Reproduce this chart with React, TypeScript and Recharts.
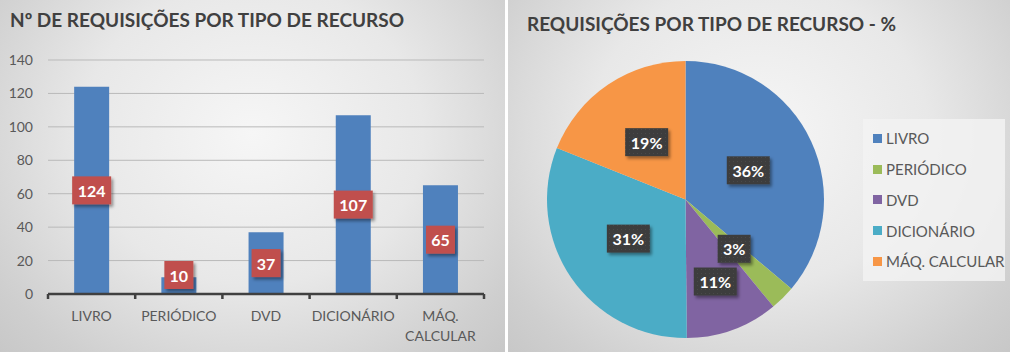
import React from "react";
import {
  BarChart,
  Bar,
  XAxis,
  YAxis,
  CartesianGrid,
  LabelList,
  PieChart,
  Pie,
  Cell,
  Legend,
  Text,
} from "recharts";

const categories = ["LIVRO", "PERIÓDICO", "DVD", "DICIONÁRIO", "MÁQ. CALCULAR"];
const requisitions = [124, 10, 37, 107, 65];
const yTicks = [0, 20, 40, 60, 80, 100, 120, 140];
const sliceColors = ["#4F81BD", "#9BBB59", "#8064A2", "#4BACC6", "#F79646"];

const barTitle = "Nº DE REQUISIÇÕES POR TIPO DE RECURSO";
const pieTitle = "REQUISIÇÕES POR TIPO DE RECURSO - %";

const FONT = "Lato, 'Open Sans', sans-serif";

const data = categories.map((name, i) => ({ name, value: requisitions[i] }));

const panelBg =
  "radial-gradient(ellipse 75% 95% at 50% 38%, #f6f6f6 0%, #e8e8e8 45%, #cfcfcf 80%, #c4c4c4 100%)";

// category tick with boundary marks like Excel
function CategoryTick(props: any) {
  const { x, y, payload, index, visibleTicksCount, width } = props;
  const half = payload?.offset || width / visibleTicksCount / 2;
  const axisY = y - 17;
  return (
    <g>
      <line x1={x - half} x2={x - half} y1={axisY} y2={axisY + 5} stroke="#404040" strokeWidth={2.5} />
      {index === visibleTicksCount - 1 && (
        <line x1={x + half} x2={x + half} y1={axisY} y2={axisY + 5} stroke="#404040" strokeWidth={2.5} />
      )}
      <Text
        x={x}
        y={y}
        width={half * 2 - 4}
        textAnchor="middle"
        verticalAnchor="start"
        lineHeight={20}
        fill="#595959"
        fontSize={14}
        fontFamily={FONT}
      >
        {payload.value}
      </Text>
    </g>
  );
}

function BarValueLabel(props: any) {
  const { x, y, width, height, value } = props;
  const w = String(value).length * 10 + 9;
  const h = 28;
  const base = y + height;
  let cy = y + height / 2;
  if (cy + h / 2 > base - 5) cy = base - 5 - h / 2;
  const cx = x + width / 2;
  return (
    <g>
      <rect x={cx - w / 2} y={cy - h / 2} width={w} height={h} fill="#C0504D" filter="url(#boxShadow)" />
      <text
        x={cx}
        y={cy}
        textAnchor="middle"
        dominantBaseline="central"
        fill="#fff"
        fontWeight="bold"
        fontSize={16}
        fontFamily={FONT}
      >
        {value}
      </text>
    </g>
  );
}

export default function App() {
  const placed: { x1: number; y1: number; x2: number; y2: number }[] = [];
  const RAD = Math.PI / 180;

  const renderPieLabel = (props: any) => {
    const { cx, cy, midAngle, outerRadius, percent, index } = props;
    const text = `${Math.round(percent * 100)}%`;
    const w = text.length * 10 + 13;
    const h = 28;
    const dx = Math.cos(-midAngle * RAD);
    const dy = Math.sin(-midAngle * RAD);
    let r = outerRadius * 0.5;
    let box = { x1: 0, y1: 0, x2: 0, y2: 0 };
    for (let step = 0; step < 60; step++) {
      const px = cx + r * dx;
      const py = cy + r * dy;
      box = { x1: px - w / 2, y1: py - h / 2, x2: px + w / 2, y2: py + h / 2 };
      const hit = placed
        .slice(0, index)
        .some((b) => b && box.x1 < b.x2 + 4 && box.x2 > b.x1 - 4 && box.y1 < b.y2 + 4 && box.y2 > b.y1 - 4);
      if (!hit) break;
      r += 2;
    }
    placed[index] = box;
    const px = (box.x1 + box.x2) / 2;
    const py = (box.y1 + box.y2) / 2;
    return (
      <g key={`pl-${index}`}>
        <rect x={box.x1} y={box.y1} width={w} height={h} fill="url(#dots)" filter="url(#boxShadow)" />
        <text
          x={px}
          y={py}
          textAnchor="middle"
          dominantBaseline="central"
          fill="#fff"
          fontWeight="bold"
          fontSize={16}
          fontFamily={FONT}
        >
          {text}
        </text>
      </g>
    );
  };

  const renderLegend = () => (
    <div
      style={{
        background: "rgba(242,242,242,0.85)",
        padding: "4px 0 4px 10px",
        fontFamily: FONT,
        fontSize: 15,
        color: "#595959",
      }}
    >
      {categories.map((c, i) => (
        <div key={c} style={{ display: "flex", alignItems: "center", height: 30.75 }}>
          <span style={{ width: 9, height: 9, background: sliceColors[i], marginRight: 4, display: "inline-block" }} />
          {c}
        </div>
      ))}
    </div>
  );

  return (
    <div style={{ position: "fixed", left: 0, top: 0, width: 1010, height: 352, background: "#fff" }}>
      <svg width={0} height={0} style={{ position: "absolute" }}>
        <defs>
          <filter id="boxShadow" x="-30%" y="-30%" width="170%" height="170%">
            <feDropShadow dx={2} dy={2.5} stdDeviation={1.8} floodColor="#000" floodOpacity={0.4} />
          </filter>
          <pattern id="dots" width={4} height={4} patternUnits="userSpaceOnUse">
            <rect width={4} height={4} fill="#3d3d3d" />
            <rect x={1} y={1} width={1} height={1} fill="#4a4a4a" />
          </pattern>
        </defs>
      </svg>

      <div style={{ position: "absolute", left: 0, top: 0, width: 505, height: 352, background: panelBg }}>
        <div
          style={{
            position: "absolute",
            left: 10,
            top: 8,
            fontFamily: FONT,
            fontWeight: "bold",
            fontSize: 19,
            color: "#404040",
            whiteSpace: "nowrap",
          }}
        >
          {barTitle}
        </div>
        <BarChart
          width={505}
          height={352}
          data={data}
          margin={{ top: 60, right: 21, left: 0, bottom: 8 }}
          barCategoryGap="30%"
        >
          <CartesianGrid vertical={false} stroke="#b9b9b9" />
          <XAxis
            dataKey="name"
            height={50}
            axisLine={{ stroke: "#404040", strokeWidth: 2.5 }}
            tickLine={false}
            tickSize={0}
            tickMargin={17}
            interval={0}
            tick={<CategoryTick />}
          />
          <YAxis
            width={48}
            domain={[0, 140]}
            ticks={yTicks}
            axisLine={false}
            tickLine={false}
            tickMargin={9}
            tick={{ fill: "#595959", fontSize: 14, fontFamily: FONT }}
          />
          <Bar dataKey="value" fill="#4F81BD" isAnimationActive={false}>
            <LabelList dataKey="value" content={<BarValueLabel />} />
          </Bar>
        </BarChart>
      </div>

      <div style={{ position: "absolute", left: 508, top: 0, width: 502, height: 352, background: panelBg }}>
        <div
          style={{
            position: "absolute",
            left: 19,
            top: 12,
            fontFamily: FONT,
            fontWeight: "bold",
            fontSize: 19,
            color: "#404040",
            whiteSpace: "nowrap",
          }}
        >
          {pieTitle}
        </div>
        <PieChart width={502} height={352} margin={{ top: 0, right: 0, bottom: 0, left: 0 }}>
          <Pie
            data={data}
            dataKey="value"
            nameKey="name"
            cx={177.5}
            cy={199.5}
            outerRadius={138.5}
            startAngle={90}
            endAngle={-270}
            stroke="none"
            label={renderPieLabel}
            labelLine={false}
            isAnimationActive={false}
          >
            {data.map((d, i) => (
              <Cell key={d.name} fill={sliceColors[i]} />
            ))}
          </Pie>
          <Legend
            content={renderLegend}
            wrapperStyle={{ position: "absolute", left: 355, top: 119, width: 142 }}
          />
        </PieChart>
      </div>
    </div>
  );
}
